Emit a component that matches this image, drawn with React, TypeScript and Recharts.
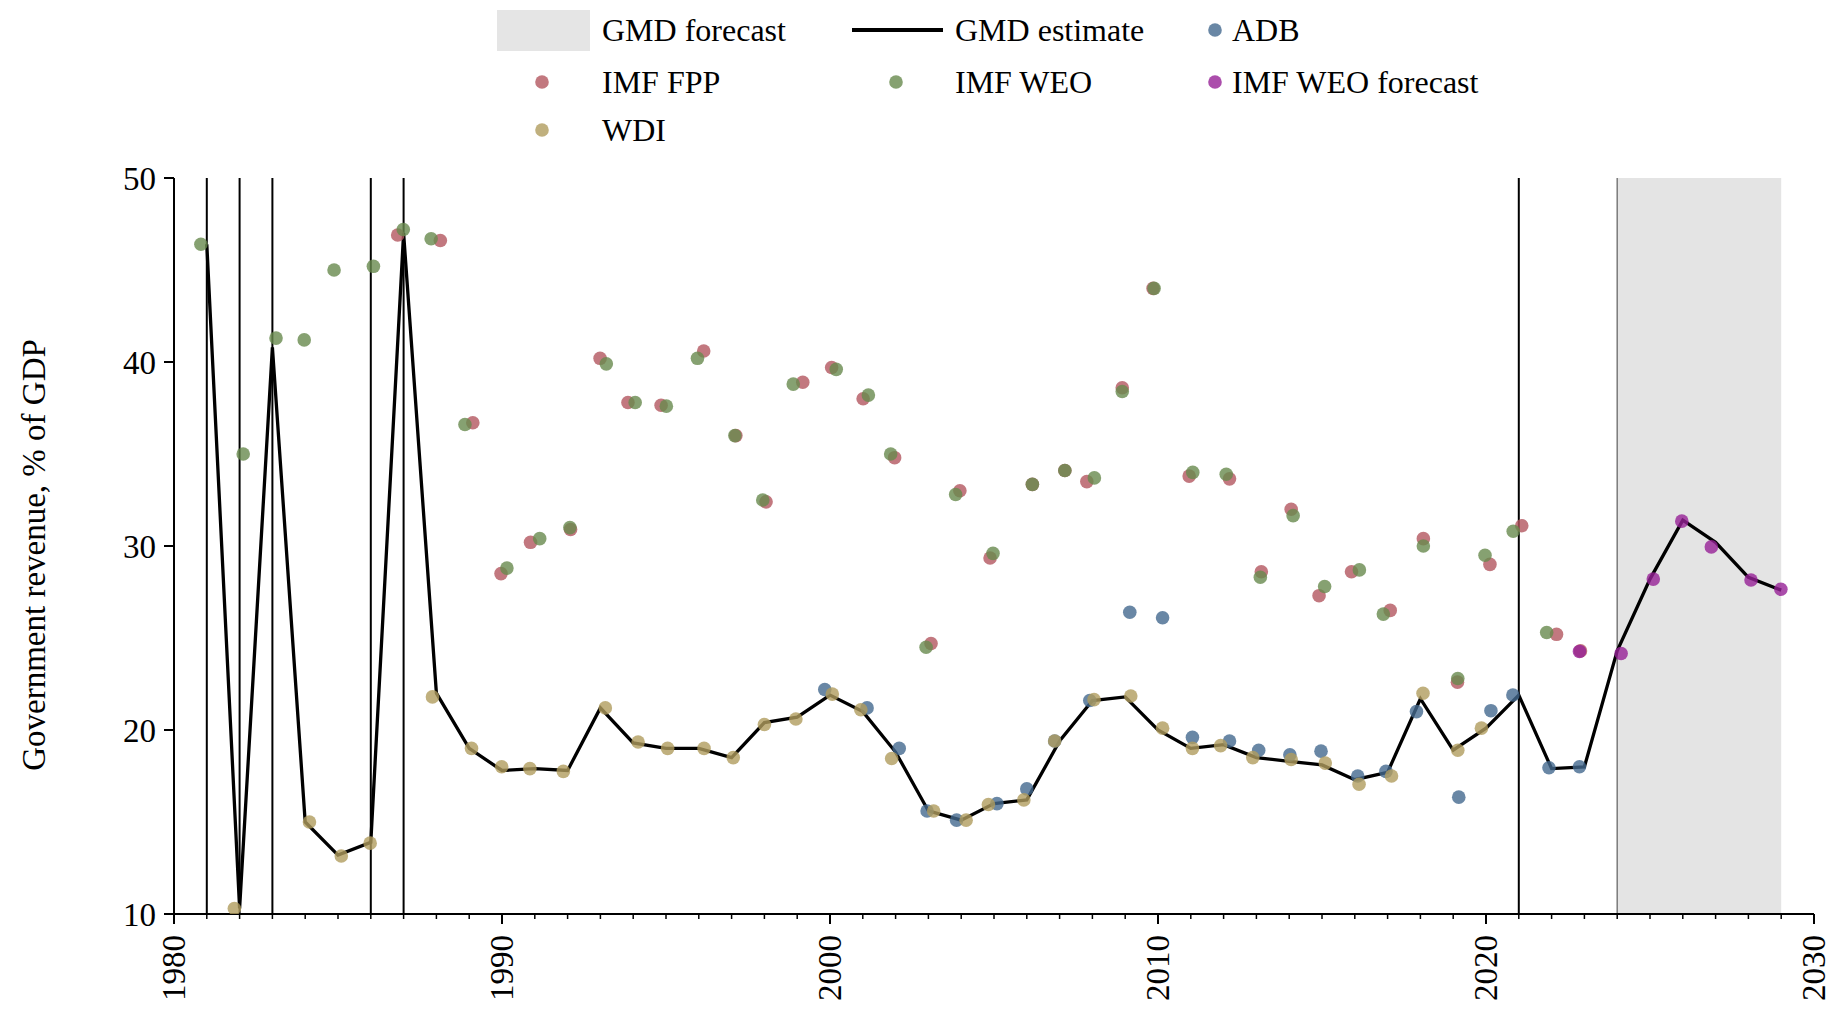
import React from "react";
import {
  ComposedChart,
  Line,
  Scatter,
  XAxis,
  YAxis,
  ReferenceLine,
  ReferenceArea,
} from "recharts";

const FONT = "'Liberation Serif', 'Times New Roman', serif";

// GMD estimate (black line)
const GMD_YEARS = [
  1981, 1982, 1983, 1984, 1985, 1986, 1987, 1988, 1989, 1990, 1991, 1992, 1993,
  1994, 1995, 1996, 1997, 1998, 1999, 2000, 2001, 2002, 2003, 2004, 2005, 2006,
  2007, 2008, 2009, 2010, 2011, 2012, 2013, 2014, 2015, 2016, 2017, 2018, 2019,
  2020, 2021, 2022, 2023, 2024, 2025, 2026, 2027, 2028, 2029,
];
const GMD_VALUES = [
  46.4, 10.3, 40.8, 15.0, 13.2, 13.9, 47.0, 22.0, 19.0, 17.8, 17.9, 17.8, 21.2,
  19.3, 19.0, 19.0, 18.5, 20.4, 20.7, 21.9, 21.0, 18.8, 15.6, 15.1, 16.0, 16.2,
  19.4, 21.6, 21.8, 20.0, 19.0, 19.2, 18.5, 18.3, 18.1, 17.3, 17.7, 21.7, 18.9,
  20.1, 21.9, 17.9, 18.0, 24.3, 28.2, 31.4, 30.2, 28.3, 27.6,
];

// source points: [year as plotted, value]
const ADB = [
  [1999.84, 22.2], [2001.13, 21.2], [2002.11, 19.0], [2002.96, 15.6], [2003.86, 15.1],
  [2005.09, 16.0], [2006.0, 16.8], [2006.85, 19.4], [2007.92, 21.6], [2009.14, 26.4],
  [2010.14, 26.1], [2011.05, 19.6], [2012.18, 19.4], [2013.07, 18.9], [2014.02, 18.65],
  [2014.97, 18.85], [2016.09, 17.5], [2016.95, 17.75], [2017.88, 21.0], [2019.17, 16.35],
  [2020.15, 21.05], [2020.82, 21.9], [2021.92, 17.95], [2022.85, 18.0],
];
const IMF_FPP = [
  [1986.82, 46.9], [1988.12, 46.6], [1989.11, 36.7], [1989.97, 28.5], [1990.87, 30.2],
  [1992.09, 30.9], [1992.99, 40.2], [1993.84, 37.8], [1994.85, 37.65], [1996.15, 40.6],
  [1997.13, 36.0], [1998.05, 32.4], [1999.17, 38.9], [2000.05, 39.7], [2001.01, 38.0],
  [2001.97, 34.8], [2003.08, 24.7], [2003.96, 33.0], [2004.88, 29.35], [2006.17, 33.35],
  [2007.16, 34.1], [2007.83, 33.5], [2008.91, 38.6], [2009.85, 44.0], [2010.95, 33.8],
  [2012.18, 33.65], [2013.15, 28.6], [2014.06, 32.0], [2014.91, 27.3], [2015.9, 28.6],
  [2017.08, 26.5], [2018.09, 30.4], [2019.13, 22.6], [2020.12, 29.0], [2021.09, 31.1],
  [2022.15, 25.2], [2022.88, 24.3],
];
const IMF_WEO = [
  [1980.82, 46.4], [1982.11, 35.0], [1983.11, 41.3], [1983.97, 41.2], [1984.88, 45.0],
  [1986.08, 45.2], [1986.99, 47.2], [1987.84, 46.7], [1988.87, 36.6], [1990.15, 28.8],
  [1991.15, 30.4], [1992.07, 31.0], [1993.18, 39.9], [1994.06, 37.8], [1995.01, 37.6],
  [1995.96, 40.2], [1997.1, 36.0], [1997.95, 32.5], [1998.88, 38.8], [2000.19, 39.6],
  [2001.17, 38.2], [2001.85, 35.0], [2002.93, 24.5], [2003.83, 32.8], [2004.97, 29.6],
  [2006.17, 33.35], [2007.16, 34.1], [2008.06, 33.7], [2008.91, 38.4], [2009.88, 44.0],
  [2011.06, 34.0], [2012.08, 33.9], [2013.12, 28.3], [2014.12, 31.65], [2015.08, 27.8],
  [2016.14, 28.7], [2016.87, 26.3], [2018.09, 30.0], [2019.14, 22.8], [2019.97, 29.5],
  [2020.83, 30.8], [2021.85, 25.3],
];
const WDI = [
  [1981.84, 10.3], [1984.13, 15.0], [1985.1, 13.15], [1985.98, 13.85], [1987.88, 21.8],
  [1989.07, 19.0], [1989.99, 18.0], [1990.85, 17.9], [1991.87, 17.75], [1993.15, 21.2],
  [1994.15, 19.35], [1995.05, 19.0], [1996.16, 19.0], [1997.05, 18.5], [1998.0, 20.3],
  [1998.96, 20.6], [2000.07, 21.95], [2000.94, 21.1], [2001.88, 18.45], [2003.16, 15.6],
  [2004.15, 15.1], [2004.83, 15.95], [2005.91, 16.2], [2006.85, 19.4], [2008.05, 21.65],
  [2009.17, 21.85], [2010.14, 20.1], [2011.05, 19.0], [2011.91, 19.15], [2012.89, 18.5],
  [2014.06, 18.4], [2015.1, 18.2], [2016.13, 17.05], [2017.12, 17.5], [2018.08, 22.0],
  [2019.14, 18.9], [2019.86, 20.1],
];
const IMF_WEO_FORECAST = [
  [2022.85, 24.27], [2024.12, 24.16], [2025.1, 28.2], [2025.97, 31.35],
  [2026.87, 29.95], [2028.08, 28.15], [2028.99, 27.65],
];

const BREAK_YEARS = [1981, 1982, 1983, 1986, 1987, 2021];
const FORECAST_START = 2024;
const FORECAST_END = 2029;

const X_TICKS = Array.from({ length: 51 }, (_, i) => 1980 + i);
const Y_TICKS = [10, 20, 30, 40, 50];

const COLORS = {
  adb: "#44698f",
  fpp: "#b3565f",
  weo: "#68894d",
  wdi: "#b09c5e",
  weoF: "#962096",
};

const DOT_R = 6.8;
const DOT_OPACITY = 0.8;

const toPts = (arr: number[][]) => arr.map(([x, y]) => ({ x, y }));
const gmdData = GMD_YEARS.map((x, i) => ({ x, y: GMD_VALUES[i] }));

const dot = (color: string) => (p: any) => (
  <circle cx={p.cx} cy={p.cy} r={DOT_R} fill={color} fillOpacity={DOT_OPACITY} />
);

function XTick(props: any) {
  const { x, y, payload } = props;
  const major = payload.value % 10 === 0;
  return (
    <g>
      <line x1={x} x2={x} y1={y} y2={y + (major ? 10 : 5)} stroke="#000" strokeWidth={major ? 2 : 1.5} />
      {major && (
        <text
          x={x}
          y={y + 21}
          transform={`rotate(-90 ${x} ${y + 21})`}
          textAnchor="end"
          dominantBaseline="central"
          fontSize={33}
          fontFamily={FONT}
          fill="#000"
        >
          {payload.value}
        </text>
      )}
    </g>
  );
}

function LegendOverlay() {
  const t = { fontSize: 32, fontFamily: FONT, fill: "#000", dominantBaseline: "central" } as any;
  const c = (cx: number, cy: number, fill: string) => (
    <circle cx={cx} cy={cy} r={DOT_R} fill={fill} fillOpacity={DOT_OPACITY} />
  );
  return (
    <svg width={1837} height={160} style={{ position: "absolute", left: 0, top: 0 }}>
      <rect x={497} y={10} width={93} height={41} fill="#e5e5e5" />
      <text x={602} y={30} {...t}>GMD forecast</text>
      <line x1={852} x2={943} y1={30} y2={30} stroke="#000" strokeWidth={4} />
      <text x={955} y={30} {...t}>GMD estimate</text>
      {c(1215, 30, COLORS.adb)}
      <text x={1232} y={30} {...t}>ADB</text>

      {c(542, 82, COLORS.fpp)}
      <text x={602} y={82} {...t}>IMF FPP</text>
      {c(896, 82, COLORS.weo)}
      <text x={955} y={82} {...t}>IMF WEO</text>
      {c(1215, 82, COLORS.weoF)}
      <text x={1232} y={82} {...t}>IMF WEO forecast</text>

      {c(542, 130, COLORS.wdi)}
      <text x={602} y={130} {...t}>WDI</text>
    </svg>
  );
}

export default function App() {
  return (
    <div style={{ position: "relative", width: 1837, height: 1019, background: "#fff" }}>
      <style>{"body{margin:0}"}</style>
      <ComposedChart
        width={1837}
        height={1019}
        margin={{ top: 178, right: 23, left: 0, bottom: 0 }}
      >
        <XAxis
          type="number"
          dataKey="x"
          domain={[1980, 2030]}
          ticks={X_TICKS}
          interval={0}
          tick={<XTick />}
          tickLine={false}
          tickSize={0}
          tickMargin={0}
          height={105}
          axisLine={{ stroke: "#000", strokeWidth: 2 }}
          allowDataOverflow
        />
        <YAxis
          type="number"
          dataKey="y"
          domain={[10, 50]}
          ticks={Y_TICKS}
          width={174}
          tickSize={10}
          tickMargin={8}
          tickLine={{ stroke: "#000", strokeWidth: 2 }}
          axisLine={{ stroke: "#000", strokeWidth: 2 }}
          tick={{ fontSize: 33, fontFamily: FONT, fill: "#000" }}
          allowDataOverflow
        />
        <ReferenceArea
          x1={FORECAST_START}
          x2={FORECAST_END}
          y1={10}
          y2={50}
          fill="#e4e4e4"
          fillOpacity={1}
          stroke="none"
        />
        <ReferenceLine x={FORECAST_START} stroke="#7a7a7a" strokeWidth={1.5} />
        {BREAK_YEARS.map((yr) => (
          <ReferenceLine key={yr} x={yr} stroke="#000" strokeWidth={2} />
        ))}
        <Line
          data={gmdData}
          dataKey="y"
          type="linear"
          stroke="#000"
          strokeWidth={3.3}
          dot={false}
          activeDot={false}
          isAnimationActive={false}
        />
        <Scatter data={toPts(ADB)} dataKey="y" shape={dot(COLORS.adb)} isAnimationActive={false} />
        <Scatter data={toPts(IMF_FPP)} dataKey="y" shape={dot(COLORS.fpp)} isAnimationActive={false} />
        <Scatter data={toPts(IMF_WEO)} dataKey="y" shape={dot(COLORS.weo)} isAnimationActive={false} />
        <Scatter data={toPts(WDI)} dataKey="y" shape={dot(COLORS.wdi)} isAnimationActive={false} />
        <Scatter data={toPts(IMF_WEO_FORECAST)} dataKey="y" shape={dot(COLORS.weoF)} isAnimationActive={false} />
      </ComposedChart>
      <LegendOverlay />
      <svg width={80} height={1019} style={{ position: "absolute", left: 0, top: 0 }}>
        <text
          x={34}
          y={555}
          transform="rotate(-90 34 555)"
          textAnchor="middle"
          dominantBaseline="central"
          fontSize={33}
          fontFamily={FONT}
          fill="#000"
        >
          Government revenue, % of GDP
        </text>
      </svg>
    </div>
  );
}
